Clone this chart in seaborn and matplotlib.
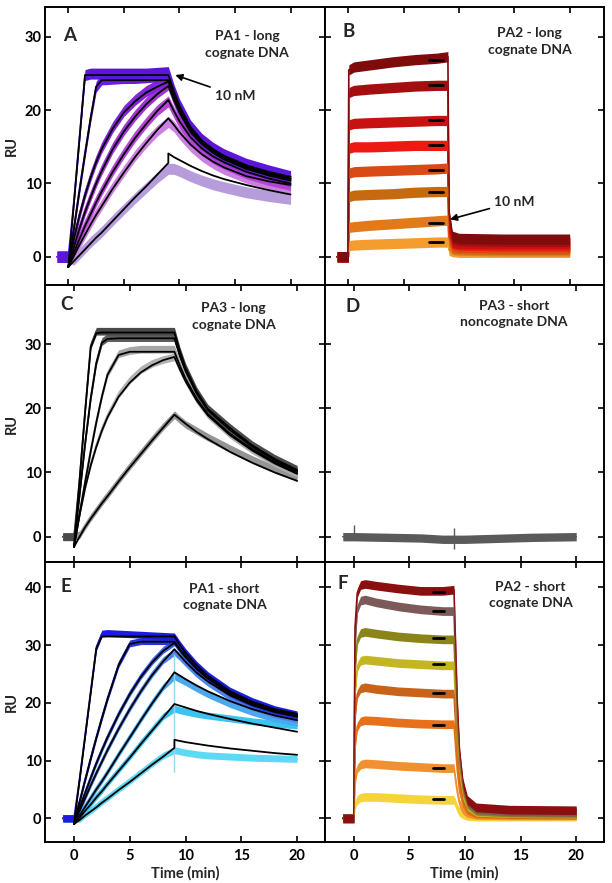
"""SPR sensorgrams of PA1/PA2/PA3 binding to long/short DNA (six panels)."""
import pandas as pd
import seaborn as sns
import matplotlib
matplotlib.use("Agg")
import matplotlib.pyplot as plt

# ---------------- panel A : PA1 - long cognate DNA ----------------
A_data_time = [-1, -0.05, 0, 0.5, 1, 1.5, 2, 2.5, 3, 4, 5, 6, 7, 8, 9, 9.5, 10, 11, 12, 13, 14, 16, 18, 20]
A_data = [
    [0, 0, 0, 7.5, 16.2, 24.8, 25.0, 25.0, 25.0, 25.0, 25.0, 25.0, 25.0, 25.1, 25.2, 22.8, 20.8, 17.9, 16.1, 14.9, 14.0, 12.7, 11.8, 11.0],
    [0, 0, 0, 4.0, 9.2, 14.2, 19.0, 23.2, 24.2, 24.3, 24.4, 24.4, 24.5, 24.6, 24.7, 22.3, 20.3, 17.5, 15.8, 14.6, 13.7, 12.4, 11.4, 10.7],
    [0, 0, 0, 2.6, 5.8, 8.6, 11.0, 13.1, 14.9, 17.7, 19.9, 21.4, 22.6, 23.4, 24.0, 21.9, 20.0, 17.3, 15.6, 14.4, 13.5, 12.2, 11.3, 10.6],
    [0, 0, 0, 1.5, 4.0, 6.3, 8.3, 10.2, 11.9, 14.9, 17.3, 19.3, 21.0, 22.4, 23.5, 21.4, 19.6, 16.9, 15.3, 14.1, 13.2, 11.9, 11.0, 10.3],
    [0, 0, 0, 0.8, 2.6, 4.4, 6.0, 7.6, 9.1, 11.8, 14.2, 16.4, 18.3, 20.0, 21.2, 19.7, 18.3, 16.1, 14.6, 13.5, 12.7, 11.4, 10.5, 9.8],
    [0, 0, 0, 0.3, 1.8, 3.2, 4.6, 5.9, 7.1, 9.5, 11.7, 13.8, 15.6, 17.2, 18.4, 17.8, 16.8, 15.1, 13.8, 12.8, 12.0, 10.8, 10.0, 9.4],
    [0, 0, 0, -0.4, 0.4, 1.2, 2.0, 2.7, 3.4, 5.0, 6.5, 8.0, 9.4, 10.8, 12.0, 12.0, 11.7, 11.0, 10.4, 9.9, 9.5, 8.8, 8.3, 7.9],
]
A_fit_time = [0, 0.5, 1, 1.5, 2, 2.5, 3, 4, 5, 6, 7, 8, 9, 9, 9.5, 10, 11, 12, 13, 14, 16, 18, 20]
A_fit = [
    [-1.4, 7.3, 16.0, 24.8, 24.8, 24.8, 24.8, 24.8, 24.8, 24.8, 24.8, 24.8, 24.8, 24.8, 22.6, 20.6, 17.7, 15.9, 14.7, 13.8, 12.5, 11.6, 10.9],
    [-1.4, 3.8, 9.0, 14.0, 18.8, 23.2, 24.1, 24.1, 24.1, 24.1, 24.1, 24.1, 24.1, 24.1, 22.0, 20.1, 17.4, 15.7, 14.5, 13.6, 12.3, 11.4, 10.7],
    [-1.4, 2.4, 5.6, 8.4, 10.8, 12.9, 14.7, 17.5, 19.7, 21.2, 22.4, 23.2, 23.9, 23.9, 21.9, 20.0, 17.3, 15.6, 14.4, 13.5, 12.2, 11.3, 10.6],
    [-1.4, 1.3, 3.8, 6.1, 8.1, 10.0, 11.7, 14.7, 17.1, 19.1, 20.8, 22.2, 23.3, 23.3, 21.4, 19.7, 17.0, 15.4, 14.2, 13.3, 12.0, 11.1, 10.4],
    [-1.4, 0.6, 2.4, 4.2, 5.8, 7.4, 8.9, 11.6, 14.0, 16.2, 18.1, 19.9, 21.4, 21.4, 19.9, 18.5, 16.3, 14.8, 13.7, 12.9, 11.6, 10.7, 10.0],
    [-1.4, 0.1, 1.6, 3.0, 4.4, 5.7, 6.9, 9.3, 11.5, 13.6, 15.5, 17.3, 18.9, 18.9, 18.0, 17.0, 15.3, 14.0, 13.0, 12.2, 11.0, 10.3, 9.8],
    [-1.4, -0.6, 0.2, 1.0, 1.8, 2.6, 3.3, 4.9, 6.5, 8.1, 9.6, 11.2, 12.8, 14.1, 13.6, 13.2, 12.4, 11.7, 11.1, 10.6, 9.8, 9.1, 8.5],
]
A_colors = ["#5b16d9", "#6a1ee0", "#8326d8", "#a034d4", "#b445d6", "#cc80e2", "#b79cdc"]

# ---------------- panel B : PA2 - long cognate DNA ----------------
B_time = [-1, -0.05, 0, 0.05, 0.5, 2, 4, 6, 8, 9, 9.1, 9.4, 10, 14, 20]
B_data = [
    [0, 0, 0, 25.5, 25.9, 26.2, 26.6, 26.9, 27.1, 27.3, 6.0, 2.8, 2.5, 2.4, 2.4],
    [0, 0, 0, 22.4, 22.7, 22.9, 23.1, 23.3, 23.4, 23.4, 5.0, 2.4, 2.2, 2.1, 2.1],
    [0, 0, 0, 18.0, 18.2, 18.3, 18.4, 18.5, 18.6, 18.6, 4.0, 2.0, 1.8, 1.8, 1.8],
    [0, 0, 0, 14.8, 15.0, 15.0, 15.1, 15.2, 15.2, 15.2, 3.4, 1.8, 1.6, 1.5, 1.5],
    [0, 0, 0, 11.4, 11.6, 11.7, 11.8, 11.9, 12.0, 12.1, 2.8, 1.5, 1.3, 1.2, 1.2],
    [0, 0, 0, 8.2, 8.4, 8.5, 8.6, 8.8, 8.9, 8.9, 2.3, 1.2, 1.1, 1.0, 1.0],
    [0, 0, 0, 4.0, 4.1, 4.3, 4.5, 4.7, 4.9, 5.0, 1.6, 1.0, 0.9, 0.8, 0.8],
    [0, 0, 0, 1.5, 1.6, 1.7, 1.8, 1.9, 2.0, 2.0, 0.9, 0.7, 0.6, 0.6, 0.6],
]
B_fit_time = [7.3, 8.6]
B_fit_levels = [26.9, 23.4, 18.7, 15.2, 11.8, 8.8, 4.55, 2.05]
B_colors = ["#7e0c0c", "#a50e0e", "#c81212", "#ec1a12", "#d94a14", "#c66a10", "#e27a1c", "#f49d2e"]

# ---------------- panel C : PA3 - long cognate DNA ----------------
C_data_time = [-1, -0.05, 0, 0.5, 1, 1.5, 2, 2.5, 3, 4, 5, 6, 7, 8, 9, 9.5, 10, 11, 12, 14, 16, 18, 20]
C_data = [
    [0, 0, 0, 9.0, 19.7, 29.8, 32.0, 32.0, 32.0, 32.0, 32.0, 32.0, 32.0, 32.0, 32.0, 28.9, 26.4, 22.7, 20.0, 17.0, 14.3, 12.2, 10.5],
    [0, 0, 0, 6.7, 14.7, 21.7, 27.2, 30.4, 31.0, 31.0, 31.0, 31.0, 31.0, 31.0, 31.0, 28.2, 25.9, 22.4, 19.8, 16.7, 14.1, 12.0, 10.3],
    [0, 0, 0, 3.8, 8.8, 13.6, 18.0, 22.0, 25.4, 28.5, 29.0, 29.2, 29.2, 29.2, 29.2, 26.8, 24.7, 21.6, 19.2, 16.1, 13.7, 11.7, 10.1],
    [0, 0, 0, 3.6, 7.9, 11.4, 14.3, 16.8, 18.9, 22.2, 24.4, 26.0, 27.0, 27.6, 28.0, 26.1, 24.3, 21.3, 19.0, 15.9, 13.5, 11.5, 9.9],
    [0, 0, 0, 0.3, 1.7, 3.0, 4.2, 5.4, 6.5, 8.8, 11.0, 13.1, 15.2, 17.2, 19.0, 18.2, 17.5, 16.5, 15.5, 13.7, 12.0, 10.5, 9.2],
]
C_fit_time = [0, 0.5, 1, 1.5, 2, 2.5, 3, 4, 5, 6, 7, 8, 9, 9.5, 10, 11, 12, 14, 16, 18, 20]
C_fit = [
    [-1.6, 8.8, 19.5, 29.5, 31.7, 31.8, 31.8, 31.8, 31.8, 31.8, 31.8, 31.8, 31.8, 28.8, 26.3, 22.6, 19.9, 16.9, 14.2, 12.1, 10.4],
    [-1.6, 6.5, 14.5, 21.5, 27.0, 30.2, 30.8, 30.9, 30.9, 30.9, 30.9, 30.9, 30.9, 28.1, 25.8, 22.3, 19.7, 16.6, 14.0, 11.9, 10.2],
    [-1.6, 3.5, 8.5, 13.3, 17.8, 21.8, 25.2, 28.3, 28.8, 28.8, 28.8, 28.8, 28.8, 26.6, 24.6, 21.5, 19.1, 16.0, 13.6, 11.6, 10.0],
    [-1.6, 3.4, 7.6, 11.1, 14.0, 16.5, 18.6, 21.8, 24.0, 25.6, 26.7, 27.5, 28.0, 26.0, 24.2, 21.2, 18.9, 15.8, 13.4, 11.4, 9.8],
    [-1.6, 0.0, 1.5, 2.8, 4.0, 5.2, 6.3, 8.6, 10.8, 12.9, 15.0, 17.0, 19.0, 18.3, 17.6, 16.3, 15.2, 13.2, 11.5, 10.0, 8.7],
]
C_colors = ["#4a4a4a", "#5e5e5e", "#a6a6a6", "#b3b3b3", "#959595"]

# ---------------- panel D : PA3 - short noncognate DNA ----------------
D_time = [-1, 0, 3, 6, 8, 10, 12, 16, 20]
D_values = [0.0, 0.0, -0.1, -0.2, -0.4, -0.4, -0.3, -0.1, 0.0]
D_spike_time = [0.0, 9.0]
D_spike_low = [-0.3, -1.9]
D_spike_high = [1.8, 1.3]

# ---------------- panel E : PA1 - short cognate DNA ----------------
E_data_time = [-1, -0.05, 0, 0.5, 1, 1.5, 2, 2.5, 3, 4, 5, 6, 7, 8, 9, 9.5, 10, 11, 12, 14, 16, 18, 20]
E_data = [
    [0, 0, 0, 6.8, 14.4, 22.0, 29.6, 32.0, 32.1, 32.0, 31.9, 31.8, 31.7, 31.6, 31.5, 30.1, 28.8, 26.6, 24.8, 22.1, 20.3, 18.9, 18.0],
    [0, 0, 0, 3.0, 6.8, 10.5, 14.1, 17.5, 20.8, 26.7, 30.3, 30.7, 30.7, 30.7, 30.7, 29.4, 28.2, 26.1, 24.4, 21.7, 19.9, 18.6, 17.7],
    [0, 0, 0, 2.0, 4.6, 7.2, 9.7, 12.0, 14.2, 18.2, 21.7, 24.7, 27.2, 29.2, 30.5, 29.1, 27.9, 25.9, 24.2, 21.5, 19.7, 18.4, 17.5],
    [0, 0, 0, 1.5, 3.7, 5.9, 8.0, 10.0, 12.0, 15.7, 19.1, 22.2, 25.0, 27.4, 28.8, 27.9, 26.9, 25.0, 23.5, 21.0, 19.3, 18.0, 17.2],
    [0, 0, 0, 0.7, 2.2, 3.7, 5.2, 6.6, 8.1, 11.2, 14.2, 17.2, 20.1, 22.8, 24.6, 24.1, 23.6, 22.5, 21.5, 19.8, 18.4, 17.3, 16.6],
    [0, 0, 0, 0.3, 1.5, 2.6, 3.8, 4.9, 6.1, 8.4, 10.7, 13.1, 15.4, 17.7, 19.0, 18.7, 18.5, 18.1, 17.8, 17.3, 16.8, 16.4, 16.1],
    [0, 0, 0, -0.1, 0.7, 1.4, 2.1, 2.9, 3.6, 5.1, 6.5, 8.0, 9.5, 10.9, 11.8, 11.6, 11.4, 11.1, 10.9, 10.7, 10.5, 10.4, 10.3],
]
E_fit_time = [0, 0.5, 1, 1.5, 2, 2.5, 3, 4, 5, 6, 7, 8, 9, 9, 9.5, 10, 11, 12, 14, 16, 18, 20]
E_fit = [
    [-1.0, 6.6, 14.2, 21.8, 29.4, 31.5, 31.5, 31.5, 31.5, 31.5, 31.5, 31.5, 31.5, 31.5, 30.0, 28.7, 26.5, 24.7, 22.0, 20.2, 18.9, 18.1],
    [-1.0, 2.8, 6.6, 10.3, 13.9, 17.3, 20.6, 26.5, 30.2, 30.6, 30.6, 30.6, 30.6, 30.6, 29.3, 28.1, 26.0, 24.3, 21.7, 20.0, 18.7, 17.9],
    [-1.0, 1.8, 4.4, 7.0, 9.5, 11.8, 14.0, 18.0, 21.5, 24.5, 27.0, 29.0, 30.4, 30.4, 29.1, 27.9, 25.9, 24.2, 21.6, 19.9, 18.6, 17.8],
    [-1.0, 1.3, 3.5, 5.7, 7.8, 9.8, 11.8, 15.5, 18.9, 22.0, 24.8, 27.2, 29.3, 29.3, 28.2, 27.1, 25.2, 23.7, 21.3, 19.6, 18.4, 17.6],
    [-1.0, 0.5, 2.0, 3.5, 5.0, 6.4, 7.9, 11.0, 14.0, 17.0, 19.9, 22.6, 25.3, 25.3, 24.7, 24.1, 23.0, 22.0, 20.3, 18.9, 17.8, 17.0],
    [-1.0, 0.1, 1.3, 2.4, 3.6, 4.7, 5.9, 8.2, 10.5, 12.9, 15.2, 17.5, 19.8, 19.8, 19.5, 19.2, 18.6, 18.1, 17.2, 16.4, 15.7, 15.0],
    [-1.0, -0.3, 0.5, 1.2, 1.9, 2.7, 3.4, 4.9, 6.3, 7.8, 9.3, 10.7, 12.2, 13.6, 13.4, 13.2, 12.9, 12.6, 12.1, 11.7, 11.3, 11.0],
]
E_spike_time = 9.0
E_spike_range = [8.0, 28.5]
E_colors = ["#1c1ce0", "#2435e0", "#3a62e4", "#4e86e8", "#4aa8ee", "#3cc4f0", "#5ed8f4"]

# ---------------- panel F : PA2 - short cognate DNA ----------------
F_time = [-1, -0.05, 0, 0.1, 0.3, 0.6, 1, 2, 4, 6, 8, 9, 9.15, 9.3, 9.5, 9.8, 10.2, 11, 14, 20]
F_data = [
    [0, 0, 0, 33.0, 39.0, 40.4, 40.6, 40.3, 39.8, 39.4, 39.4, 39.6, 30.0, 20.0, 11.6, 6.2, 3.2, 1.9, 1.5, 1.4],
    [0, 0, 0, 30.0, 36.2, 37.7, 37.9, 37.4, 36.7, 36.2, 35.9, 35.9, 27.2, 18.1, 10.5, 5.6, 2.9, 1.6, 1.2, 1.1],
    [0, 0, 0, 25.5, 30.8, 32.1, 32.3, 32.0, 31.5, 31.2, 31.0, 31.0, 23.5, 15.7, 9.1, 4.8, 2.5, 1.3, 1.0, 0.9],
    [0, 0, 0, 21.5, 26.2, 27.3, 27.5, 27.3, 26.9, 26.7, 26.5, 26.5, 20.1, 13.4, 7.8, 4.1, 2.1, 1.1, 0.9, 0.8],
    [0, 0, 0, 17.5, 21.5, 22.5, 22.7, 22.4, 22.0, 21.8, 21.6, 21.6, 16.4, 10.9, 6.4, 3.4, 1.8, 1.0, 0.8, 0.7],
    [0, 0, 0, 12.5, 15.9, 16.8, 17.0, 16.9, 16.6, 16.4, 16.3, 16.3, 12.4, 8.3, 4.8, 2.6, 1.4, 0.8, 0.7, 0.6],
    [0, 0, 0, 6.5, 8.6, 9.3, 9.5, 9.4, 9.1, 8.9, 8.7, 8.7, 6.6, 4.5, 2.6, 1.5, 0.9, 0.6, 0.5, 0.5],
    [0, 0, 0, 2.3, 3.2, 3.6, 3.7, 3.7, 3.5, 3.3, 3.2, 3.2, 2.5, 1.7, 1.1, 0.7, 0.4, 0.3, 0.3, 0.3],
]
F_fit_time = [7.1, 8.1]
F_fit_levels = [39.2, 35.9, 31.2, 26.7, 21.7, 16.2, 8.7, 3.3]
F_colors = ["#8b0f0f", "#7d5a5a", "#8a8419", "#c4b620", "#c8641a", "#e8701a", "#f09030", "#f5d43a"]

TITLES = ["PA1 - long\ncognate DNA", "PA2 - long\ncognate DNA", "PA3 - long\ncognate DNA",
          "PA3 - short\nnoncognate DNA", "PA1 - short\ncognate DNA", "PA2 - short\ncognate DNA"]
LETTERS = ["A", "B", "C", "D", "E", "F"]

sns.set_theme(style="ticks")
plt.rcParams["font.family"] = ["Lato", "DejaVu Sans"]
plt.rcParams["font.weight"] = "bold"


def long_form(time, series):
    rows = []
    for k, vals in enumerate(series):
        for t, v in zip(time, vals):
            rows.append((k, t, v))
    return pd.DataFrame(rows, columns=["trace", "time", "RU"])


def draw_data(ax, time, series, colors, noise):
    # thin trace line plus a band standing in for the instrument noise
    df = long_form(time, series)
    order = list(range(len(series)))[::-1]
    sns.lineplot(data=df, x="time", y="RU", hue="trace", hue_order=order,
                 palette=dict(zip(range(len(colors)), colors)), units="trace",
                 estimator=None, sort=False, lw=1.2, legend=False, ax=ax, zorder=2)
    for k in order:
        vals = series[k]
        ax.fill_between(time, [v - noise for v in vals], [v + noise for v in vals],
                        color=colors[k], lw=0, zorder=2)


def draw_fits(ax, time, series, lw=1.3):
    df = long_form(time, series)
    sns.lineplot(data=df, x="time", y="RU", units="trace", estimator=None,
                 sort=False, color="black", lw=lw, legend=False, ax=ax, zorder=3)


fig = plt.figure(figsize=(6.12, 8.83), dpi=100)
W, H = 612, 883
cols = [(45, 325), (325, 604)]
rows = [(7.3, 285), (285, 562), (562, 842)]
axes = []
for r, (y0, y1) in enumerate(rows):
    for c, (x0, x1) in enumerate(cols):
        ax = fig.add_axes([x0 / W, 1 - y1 / H, (x1 - x0) / W, (y1 - y0) / H])
        axes.append(ax)
axA, axB, axC, axD, axE, axF = axes

draw_data(axA, A_data_time, A_data, A_colors, 0.75)
draw_fits(axA, A_fit_time, A_fit)

draw_data(axB, B_time, B_data, B_colors, 0.7)
draw_fits(axB, B_fit_time, [[v, v] for v in B_fit_levels], lw=2)

draw_data(axC, C_data_time, C_data, C_colors, 0.6)
draw_fits(axC, C_fit_time, C_fit)

draw_data(axD, D_time, [D_values], ["#5a5a5a"], 0.65)
axD.vlines(D_spike_time, D_spike_low, D_spike_high, color="#5a5a5a", lw=1)

draw_data(axE, E_data_time, E_data, E_colors, 0.6)
axE.vlines(E_spike_time, E_spike_range[0], E_spike_range[1], color="#9ad4ee", lw=1)
draw_fits(axE, E_fit_time, E_fit)

draw_data(axF, F_time, F_data, F_colors, 0.75)
draw_fits(axF, F_fit_time, [[v, v] for v in F_fit_levels], lw=2)

xlims = [(-2.1, 23.1), (-2.6, 22.5), (-2.6, 22.5)]
ylims = [(-3.86, 34.05), (-3.94, 39.2), (-4.1, 44.4)]
yticks = [[0, 10, 20, 30], [0, 10, 20, 30], [0, 10, 20, 30, 40]]

for i, ax in enumerate(axes):
    r, c = divmod(i, 2)
    ax.set_xlim(*xlims[r])
    ax.set_ylim(*ylims[r])
    ax.set_xticks([0, 5, 10, 15, 20])
    ax.set_yticks(yticks[r])
    ax.tick_params(direction="in", length=4, width=1.2, top=True, right=True,
                   labelsize=10.5, pad=2.5, colors="black")
    ax.tick_params(axis="x", pad=5)
    for s in ax.spines.values():
        s.set_linewidth(1.4)
        s.set_color("black")
    ax.set_xlabel("Time (min)" if r == 2 else "", fontsize=10.5, fontweight="bold", labelpad=2)
    ax.set_ylabel("RU" if c == 0 else "", fontsize=10.5, fontweight="bold", labelpad=4)
    if r < 2:
        ax.set_xticklabels([])
    if c == 1:
        ax.set_yticklabels([])
    for lab in ax.get_xticklabels() + ax.get_yticklabels():
        lab.set_fontweight("bold")

# panel letters and titles (data coordinates of each panel)
letter_pos = [(0.15, 30.2), (0.03, 30.7), (-0.63, 36.1), (-0.15, 35.9), (-0.72, 40.2), (-0.99, 40.6)]
title_pos = [(16.1, 29.0), (16.4, 29.4), (14.3, 34.3), (14.4, 34.7), (13.5, 38.3), (15.9, 38.7)]
for ax, let, lp, tit, tp in zip(axes, LETTERS, letter_pos, TITLES, title_pos):
    ax.text(*lp, let, fontsize=13.5, fontweight="bold", ha="center", va="center")
    ax.text(*tp, tit, fontsize=10, fontweight="bold", ha="center", va="center",
            linespacing=1.45)

arrow = dict(arrowstyle="-|>", color="black", lw=1.2, mutation_scale=10, shrinkA=1, shrinkB=0)
axA.annotate("10 nM", xy=(9.63, 24.8), xytext=(15.0, 22.0), fontsize=10, fontweight="bold",
             ha="center", va="center", arrowprops=arrow)
axB.annotate("10 nM", xy=(9.19, 5.1), xytext=(15.0, 7.5), fontsize=10, fontweight="bold",
             ha="center", va="center", arrowprops=arrow)

fig.savefig("out.png", dpi=100)
